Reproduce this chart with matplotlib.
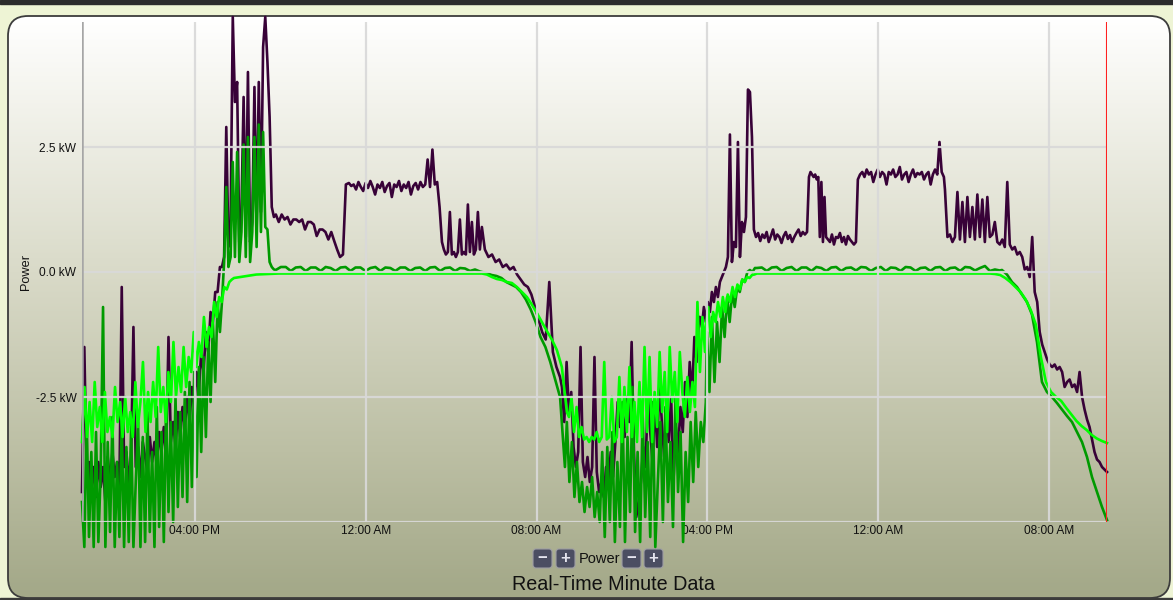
import numpy as np
import matplotlib
matplotlib.use('Agg')
import matplotlib.pyplot as plt
from matplotlib.patches import FancyBboxPatch, Rectangle
from matplotlib.colors import LinearSegmentedColormap

plt.rcParams['font.family'] = ['Liberation Sans', 'DejaVu Sans']

# time = hour of day counted from midnight of day 1, values in kW
t_start, t_end = 10.71, 58.72

# purple (net power)
purple_1 = [-4.4, -1.5, -4.1, -3.8, -4.4, -3.9, -4.5, -3.8, -4.3, -3.9, -4.6, -3.7, -4.2, -3.6, -4.1,
            -3.8, -4.3, -0.3, -3.9, -3.6, -4.2, -3.7, -1.1, -3.9, -3.5, -4.1, -3.4, -3.7, -4.0, -3.3,
            -3.8, -3.4, -3.9, -3.2, -3.6, -3.1, -3.7, -1.3, -3.4, -3.0, -3.5, -2.8, -3.3, -2.7, -3.1,
            -2.5, -3.0, -2.3, -2.7, -2.0, -2.4, -1.6, -2.0, -1.2, -1.6, -0.8, -1.0, -0.4, -0.4, 0.1]
purple_2 = [0.1, 0.3, 2.9, 0.5, 1.0, 5.1, 3.4, 3.8, 0.6, 1.2, 3.5, 0.7, 4.0, 0.6, 1.0, 3.7, 0.8,
            3.8, 1.2, 4.5, 5.1, 4.2, 3.1, 1.3, 1.1]
purple_3 = [1.15, 1.0, 1.15, 1.05, 1.1, 0.95, 1.05, 1.05, 1.0, 1.05, 0.85, 1.0, 1.0, 0.95, 0.72,
            0.85, 0.85, 0.8, 0.65, 0.8, 0.62, 0.45, 0.3, 0.35, 1.75]
purple_4 = [1.78, 1.72, 1.75, 1.65, 1.8, 1.7, 1.62, 1.78, 1.68, 1.82, 1.7, 1.55, 1.75, 1.68, 1.8,
            1.6, 1.72, 1.78, 1.5, 1.75, 1.7, 1.82, 1.62, 1.75, 1.68, 1.8, 1.55, 1.72, 1.78, 1.65,
            1.8, 1.7, 1.75, 2.25, 1.7, 2.45, 1.75, 1.8, 1.3, 0.6]
purple_5 = [0.45, 0.35, 0.4, 1.2, 0.35, 0.4, 0.3, 0.4, 1.05, 0.35, 0.4, 0.35, 1.35, 0.4, 1.0,
            0.35, 0.45, 1.2, 0.45, 0.9]
purple_6 = [0.45, 0.3, 0.35, 0.2, 0.25, 0.1, 0.15, 0.05, 0.1, -0.05, -0.15, -0.25, -0.3, -0.45,
            -0.7, -0.95, -1.2, -1.35, -0.2, -1.6, -1.9, -2.1]
purple_7 = [-2.3, -3.0, -1.8, -2.8, -2.4, -3.5, -3.9, -3.6, -1.5, -3.8, -4.1, -3.7, -4.2, -3.9, -1.7,
            -4.0, -4.4, -4.2, -4.5, -3.9, -4.3, -3.6, -4.1, -3.4, -2.6, -3.1, -2.8, -3.3, -2.5, -3.0,
            -1.4, -3.6, -4.9, -4.6, -4.2, -3.5, -3.9, -2.4, -3.2, -3.8, -2.6, -3.5, -2.2, -3.0, -3.7,
            -2.8, -3.4, -2.5, -4.2, -3.1, -3.6, -2.7, -3.2, -2.2, -2.9, -1.8, -2.5, -1.3, -1.8, -0.9]
purple_8 = [-0.9, -1.1, -0.7, -1.0, -0.6, -0.8, -0.4, -0.6, -0.3, -0.5, -0.2, -0.1, 0.0, 0.1, 0.3,
            2.75, 0.2, 0.6, 0.5, 2.6, 0.3, 1.0, 0.8, 1.1, 3.65, 3.6, 2.7]
purple_9 = [0.85, 0.7, 0.78, 0.62, 0.75, 0.68, 0.8, 0.6, 0.72, 0.85, 0.65, 0.75, 0.7, 0.58, 0.72,
            0.8, 0.66, 0.74, 0.6, 0.7, 0.78, 0.85, 0.72, 0.8, 0.75, 0.8]
purple_10 = [1.9, 2.0, 1.95, 1.9, 1.95, 1.85, 1.9, 0.7, 1.8, 0.6, 1.5, 0.7]
purple_11 = [0.65, 0.6, 0.75, 0.55, 0.7, 0.68, 0.78, 0.6, 0.7, 0.55, 0.72, 0.65, 0.6, 0.55, 0.6]
purple_12 = [1.85, 1.95, 2.0, 1.9, 2.05, 1.95, 2.0, 1.8, 1.95, 2.05, 1.9, 2.0, 1.95, 1.75, 2.0,
             1.95, 2.05, 1.9, 1.95, 2.1, 1.85, 1.95, 2.0, 1.8, 1.95, 2.05, 1.9, 1.98, 1.95, 2.0,
             1.85, 1.95, 2.0, 1.75, 1.95, 2.05, 1.95, 2.6, 2.0, 1.9]
purple_13 = [1.65, 0.7, 0.75, 0.6, 0.7, 1.6, 0.65, 1.4, 0.6, 1.5, 0.7, 1.3, 0.65, 1.55, 0.7, 1.45,
             0.6, 1.5, 0.7, 0.75, 1.0, 0.6, 0.55, 0.65, 0.5, 1.8, 0.55, 0.45, 0.5, 0.35, 0.4, 0.3,
             0.05, 0.1, -0.1, 0.7, -0.4, -0.6, -1.2, -1.45, -1.6, -1.75, -1.85, -1.9, -1.85, -1.95,
             -1.9, -2.0, -2.3, -2.2, -2.15, -2.3, -2.25, -2.4, -2.0, -2.5, -2.75, -2.95, -3.1,
             -3.35, -3.6, -3.75, -3.8, -3.9, -3.95, -4.0]
purple_spans = [(10.71, 17.17), (17.265, 19.70), (19.79, 23.07), (23.21, 27.57), (27.66, 29.44),
                (29.58, 33.10), (33.19, 39.61), (39.65, 42.09), (42.18, 44.67), (44.76, 45.56),
                (45.65, 46.96), (47.05, 51.08), (51.13, 58.72)]

# bright green
lime_1 = [-3.4, -2.3, -3.3, -2.6, -3.4, -2.2, -3.1, -2.7, -3.4, -2.4, -3.2, -2.9, -3.3, -2.3, -3.0,
          -2.6, -3.3, -2.5, -3.2, -2.8, -3.3, -2.2, -3.1, -2.6, -1.8, -3.2, -2.4, -3.0, -2.2, -2.9,
          -1.5, -2.8, -2.3, -3.0, -2.0, -2.6, -1.4, -2.5, -1.9, -2.4, -1.5, -2.3, -1.7, -2.0, -1.2,
          -1.9, -1.4, -1.7, -0.9, -1.5, -1.1, -1.3, -0.6, -0.9, -0.5, -0.6, -0.3, -0.35, -0.2, -0.15]
lime_2 = [-0.12, -0.05, -0.03, -0.03, -0.03, -0.03, -0.03, -0.03, -0.03, -0.03, -0.03, -0.03]
lime_3 = [-0.03, -0.05, -0.1, -0.14, -0.16, -0.2, -0.22, -0.3, -0.4, -0.5, -0.65, -0.82, -1.0,
          -1.18, -1.35, -1.56, -1.9, -2.8]
lime_4 = [-2.9, -2.5, -3.2, -2.7, -3.3, -3.1, -3.35, -3.3, -3.4, -3.3, -3.35, -3.2, -3.4, -3.3, -1.8,
          -3.35, -3.3, -2.5, -3.4, -3.3, -2.1, -3.4, -2.3, -3.2, -1.9, -3.3, -2.6, -3.4, -2.2, -3.3,
          -1.5, -3.2, -1.7, -3.4, -2.4, -3.1, -1.6, -2.8, -2.0, -3.2, -1.5, -2.6, -2.0, -3.0, -1.6,
          -2.4, -2.9, -2.1, -2.8, -2.2, -2.7, -0.6, -2.0, -0.9, -1.6]
lime_5 = [-1.1, -0.7, -1.3, -0.8, -1.0, -0.6, -0.9, -0.5, -0.8, -0.45, -0.6, -0.3, -0.5, -0.25,
          -0.35, -0.15, -0.2, -0.1, -0.12, -0.06, -0.05, -0.03]
lime_6 = [-0.03, -0.03, -0.03, -0.03, -0.03, -0.03, -0.03, -0.03, -0.03, -0.03]
lime_7 = [-0.03, -0.04, -0.06, -0.12, -0.2, -0.3, -0.4, -0.55, -0.76, -1.05, -1.7, -2.2, -2.4,
          -2.5, -2.58, -2.72, -2.85, -2.98, -3.08, -3.16, -3.26, -3.33, -3.38, -3.42]
lime_spans = [(10.71, 17.73), (17.83, 29.35), (29.44, 33.42), (33.52, 39.89), (39.93, 42.32),
              (42.46, 53.14), (53.24, 58.72)]

# dark green
green_1 = [-4.6, -5.5, -2.9, -5.3, -3.6, -5.5, -3.2, -5.4, -4.0, -0.7, -5.5, -3.4, -5.2, -2.9, -5.5,
           -3.8, -5.3, -3.0, -5.5, -3.5, -5.4, -3.1, -5.5, -4.2, -3.0, -5.5, -3.3, -5.4, -2.8, -5.2,
           -3.6, -5.5, -2.7, -5.1, -3.2, -5.4, -2.6, -4.8, -3.0, -5.0, -2.5, -4.7, -2.8, -4.5, -2.4,
           -4.6, -2.2, -4.3, -2.0, -4.1, -1.9, -3.6, -1.7, -3.3, -1.4, -2.6, -1.0, -2.2, -0.6, -1.2]
green_2 = [-0.6, 0.2, 1.7, 0.1, 0.3, 2.2, 0.3, 2.4, 0.2, 0.8, 2.55, 0.3, 2.7, 0.2, 0.8, 2.7, 0.5,
           2.95, 0.8, 2.8, 0.9, 0.85, 0.2, 0.1, 0.05]
green_3 = [0.04, 0.1, 0.1, 0.02, 0.09, 0.1, 0.02, 0.09, 0.09, 0.02, 0.1, 0.08, 0.02, 0.09, 0.1,
           0.02, 0.09, 0.09, 0.02, 0.08, 0.1, 0.02, 0.09, 0.08, 0.02, 0.09, 0.09, 0.02, 0.08, 0.09,
           0.02, 0.09, 0.1, 0.02, 0.08, 0.09, 0.02, 0.08, 0.07, 0.02, 0.05, 0.01]
green_4 = [0.0, -0.02, -0.06, -0.08, -0.12, -0.2, -0.25, -0.3, -0.4, -0.55, -0.75, -1.0, -1.3,
           -1.5, -1.8, -2.15, -2.5, -3.9]
green_5 = [-3.0, -4.2, -3.4, -4.5, -3.8, -4.6, -4.2, -4.8, -4.3, -4.7, -4.1, -4.9, -4.4, -5.0, -3.6,
           -5.3, -3.5, -5.0, -3.2, -5.4, -3.8, -5.1, -2.6, -5.4, -3.3, -4.8, -2.3, -5.2, -3.6, -5.4,
           -2.8, -4.9, -3.4, -5.3, -2.6, -5.5, -4.2, -3.0, -5.0, -2.7, -4.6, -3.4, -5.1, -2.5, -4.4,
           -3.2, -5.4, -3.6, -4.6, -3.0, -4.2, -2.8, -3.9, -3.0, -3.4, -2.6]
green_6 = [-1.2, -2.4, -0.9, -2.2, -1.0, -1.8, -0.7, -1.3, -0.5, -1.0, -0.4, -0.7, -0.3, -0.4,
           -0.15, -0.2, 0.0, 0.04, 0.0, 0.08]
green_7 = [0.08, 0.09, 0.02, 0.09, 0.1, 0.02, 0.08, 0.1, 0.02, 0.09, 0.09, 0.02, 0.1, 0.08, 0.02,
           0.09, 0.1, 0.02, 0.08, 0.09, 0.03, 0.1, 0.09, 0.02, 0.08, 0.1, 0.02, 0.09, 0.08, 0.02,
           0.1, 0.09, 0.02, 0.08, 0.09, 0.02, 0.09, 0.1, 0.02, 0.08, 0.09, 0.02, 0.1, 0.09, 0.03,
           0.08, 0.12, 0.02, 0.05, 0.03]
green_8 = [0.04, -0.05, -0.2, -0.3, -0.45, -0.6, -0.85, -1.4, -2.2, -2.4, -2.5, -2.62, -2.75, -2.88,
           -3.0, -3.2, -3.4, -3.7, -4.1, -4.4, -4.7, -4.96]
green_spans = [(10.71, 17.17), (17.265, 19.70), (19.79, 29.35), (29.44, 33.33), (33.42, 39.93),
               (39.98, 42.23), (42.32, 53.70), (53.80, 58.72)]

tick_hours = [16, 24, 32, 40, 48, 56]
tick_labels = ['04:00 PM', '12:00 AM', '08:00 AM', '04:00 PM', '12:00 AM', '08:00 AM']
y_ticks = [-2.5, 0.0, 2.5]
y_labels = ['-2.5 kW', '0.0 kW', '2.5 kW']


def build(spans, parts):
    t = np.concatenate([np.linspace(a, b, len(v)) for (a, b), v in zip(spans, parts)])
    y = np.concatenate([np.asarray(v, float) for v in parts])
    return t, y


purple_t, purple_kw = build(purple_spans, [purple_1, purple_2, purple_3, purple_4, purple_5,
                                           purple_6, purple_7, purple_8, purple_9, purple_10,
                                           purple_11, purple_12, purple_13])
lime_t, lime_kw = build(lime_spans, [lime_1, lime_2, lime_3, lime_4, lime_5, lime_6, lime_7])
green_t, green_kw = build(green_spans, [green_1, green_2, green_3, green_4, green_5, green_6,
                                        green_7, green_8])

W, H = 1173, 600
fig = plt.figure(figsize=(W / 100, H / 100), dpi=100)
fig.patch.set_facecolor('#eef4d5')

# background panel with gradient
bg = fig.add_axes([0, 0, 1, 1])
bg.set_xlim(0, W)
bg.set_ylim(H, 0)
bg.axis('off')
bg.set_zorder(0)
bg.add_patch(Rectangle((0, 0), W, 3.5, color='#2c2c2c', zorder=1))
bg.add_patch(Rectangle((0, 597.5), W, 3, color='#3a3a3a', zorder=1))
panel = FancyBboxPatch((8, 16), 1162, 582, boxstyle='round,pad=0,rounding_size=20',
                       facecolor='none', edgecolor='#3c3c3c', linewidth=1.3, zorder=3)
bg.add_patch(panel)
grad_cmap = LinearSegmentedColormap.from_list(
    'panel', [(0.0, '#ffffff'), (0.1, '#f7f7f2'), (0.44, '#d9dac8'),
              (0.75, '#bcbfa4'), (1.0, '#a3a888')])
grad = np.linspace(0, 1, 300).reshape(-1, 1)
im = bg.imshow(grad, cmap=grad_cmap, extent=(8, 1170, 598, 16), aspect='auto', zorder=2)
im.set_clip_path(panel)

# minus / plus buttons and captions
for bx, sym in [(533, '−'), (556, '+'), (622, '−'), (644, '+')]:
    bg.add_patch(FancyBboxPatch((bx, 549), 19, 19, boxstyle='round,pad=0,rounding_size=3',
                                facecolor='#4b4e62', edgecolor='#9c9ca4', linewidth=0.8, zorder=4))
    bg.text(bx + 9.5, 558.5, sym, color='#e4e4ee', fontsize=12, fontweight='bold',
            ha='center', va='center', zorder=5)
bg.text(599, 559, 'Power', fontsize=10.5, color='#111111', ha='center', va='center', zorder=5)
bg.text(613, 584, 'Real-Time Minute Data', fontsize=14.2, color='#111111',
        ha='center', va='center', zorder=5)
bg.text(26, 272, 'Power', fontsize=9.2, rotation=90, color='#111111',
        ha='center', va='center', zorder=5)

# main chart
ax = fig.add_axes([82 / W, 1 - 522 / H, (1107 - 82) / W, 500 / H])
ax.set_zorder(1)
ax.patch.set_visible(False)
ax.set_xlim(t_start, t_end)
ax.set_ylim(-5, 5)

ax.plot(purple_t, purple_kw, color='#380238', lw=1.9, clip_on=False, zorder=2)
ax.plot(green_t, green_kw, color='#009a00', lw=1.9, clip_on=False, zorder=3)
ax.plot(lime_t, lime_kw, color='#00ff00', lw=1.9, clip_on=False, zorder=4)

grid_col = '#d9d9d9'
for y in y_ticks + [-5]:
    ax.axhline(y, color=grid_col, lw=1.6, alpha=0.92, zorder=5)
for x in tick_hours:
    ax.axvline(x, color=grid_col, lw=1.6, alpha=0.92, zorder=5)
ax.axvline(t_start, color='#a6a6a6', lw=1.8, zorder=6)
ax.axvline(t_end, color='#ff2020', lw=1.5, zorder=6)

for s in ax.spines.values():
    s.set_visible(False)
ax.set_xticks(tick_hours)
ax.set_xticklabels(tick_labels)
ax.set_yticks(y_ticks)
ax.set_yticklabels(y_labels)
ax.tick_params(axis='both', length=0, labelsize=8.6, labelcolor='#111111')
ax.tick_params(axis='x', pad=2)
ax.tick_params(axis='y', pad=4)

fig.savefig('out.png', dpi=100, facecolor=fig.get_facecolor())
